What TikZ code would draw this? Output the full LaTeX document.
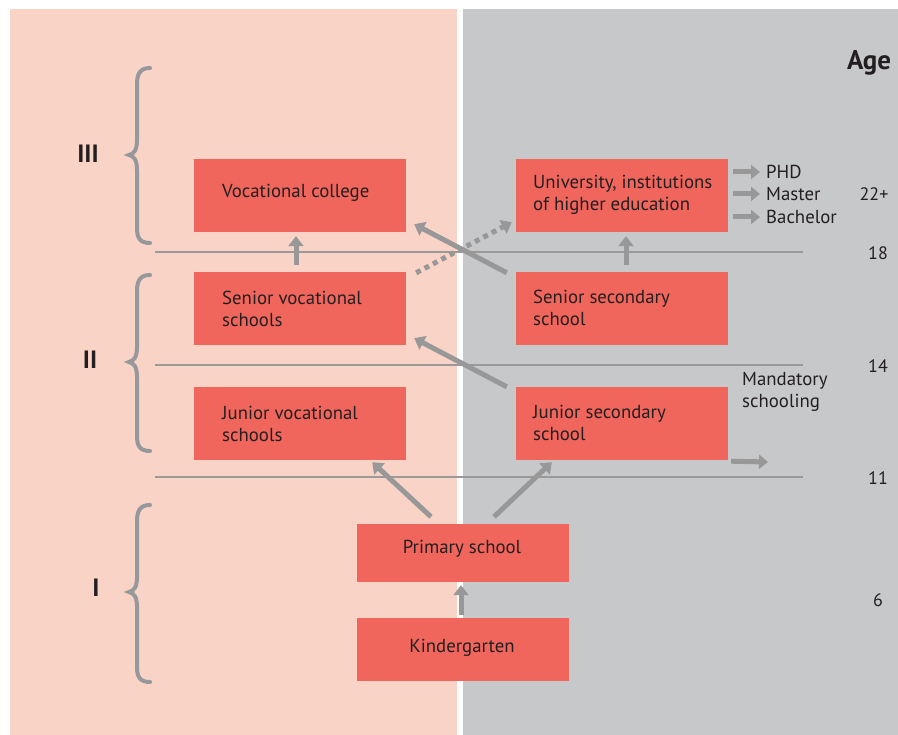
\documentclass[tikz,border=0pt]{standalone}
\usepackage{fontspec}
\setmainfont{PT Sans}
\usetikzlibrary{arrows.meta,calc}
\definecolor{pinkbg}{HTML}{FAD3C7}
\definecolor{greybg}{HTML}{C7C8CA}
\definecolor{boxred}{HTML}{F0665C}
\definecolor{txtc}{HTML}{231F20}
\definecolor{arrc}{HTML}{989898}
\definecolor{linec}{HTML}{9A9A9A}
\definecolor{bracec}{HTML}{96989B}
\tikzset{
  box/.style={rectangle, fill=boxred, draw=none, minimum width=212pt, minimum height=73pt, inner sep=0pt},
  btxt/.style={text=txtc, font=\fontsize{18.8}{22}\selectfont, align=left, inner sep=0pt},
  ctxt/.style={text=txtc, font=\fontsize{18.8}{22}\selectfont, inner sep=0pt},
  agetxt/.style={text=txtc, font=\fontsize{18}{21}\selectfont, inner sep=0pt},
  roman/.style={text=txtc, font=\fontsize{25}{28}\selectfont\bfseries, inner sep=0pt},
  arr/.style={draw=arrc, line width=5pt, -{Triangle[width=15pt,length=10pt]}},
  dotarr/.style={draw=arrc, line width=5pt, dash pattern=on 5pt off 4.5pt, -{Triangle[width=15pt,length=10pt]}},
  hline/.style={draw=linec, line width=1.5pt},
  brace/.style={draw=bracec, line width=4pt, line cap=round},
}
\begin{document}
\begin{tikzpicture}[x=1pt,y=-1pt]
\useasboundingbox (0,0) rectangle (898,735);
\fill[white] (0,0) rectangle (898,735);
\fill[pinkbg] (10,9) rectangle (457,735);
\fill[greybg] (463,9) rectangle (898,735);

% horizontal age lines
\draw[hline] (155,252) -- (803,252);
\draw[hline] (155,365) -- (803,365);
\draw[hline] (155,477) -- (803,477);

% boxes
\node[box] (vc) at (300,195.5) {};
\node[box] (uni) at (622,195.5) {};
\node[box] (sv) at (300,308.5) {};
\node[box] (ss) at (622,308.5) {};
\node[box] (jv) at (300,423.5) {};
\node[box] (js) at (622,423.5) {};
\node[box, minimum height=58pt] (ps) at (463,553) {};
\node[box, minimum height=63pt] (kg) at (463,649.5) {};

% box texts
\node[btxt, anchor=west] (vct) at (222,193) {Vocational college};
\node[btxt, anchor=west] (unit) at (533,195) {University, institutions\\of higher education};
\node[btxt, anchor=west] (svt) at (222,309) {Senior vocational\\schools};
\node[btxt, anchor=west] (sst) at (533,308) {Senior secondary\\school};
\node[btxt, anchor=west] (jvt) at (222,424) {Junior vocational\\schools};
\node[btxt, anchor=west] (jst) at (533,423) {Junior secondary\\school};
\node[ctxt] (pst) at (462,549) {Primary school};
\node[ctxt] (kgt) at (462,648) {Kindergarten};

% connectors
\draw[arr] ([shift={(-4,-7)}]sv.north) -- ([shift={(-4,4)}]vc.south);
\draw[arr] ([shift={(4,-7)}]ss.north) -- ([shift={(4,4)}]uni.south);
\draw[arr] ([shift={(-9,1)}]ss.north west) -- ([shift={(8,-8)}]vc.south east);
\draw[dotarr] ([shift={(10,1)}]sv.north east) -- ([shift={(-4,-10)}]uni.south west);
\draw[arr] ([shift={(-9,0)}]js.north west) -- ([shift={(8,-7)}]sv.south east);
\draw[arr] ([shift={(-32,-7)}]ps.north) -- ([shift={(-34,2)}]jv.south east);
\draw[arr] ([shift={(31,-7)}]ps.north) -- ([shift={(36,2)}]js.south west);
\draw[arr] ([shift={(-2,-3)}]kg.north) -- ([shift={(-2,3)}]ps.south);

% degree arrows
\node[btxt, anchor=west] (phd) at (766,172) {PHD};
\node[btxt, anchor=west] (mas) at (766,194) {Master};
\node[btxt, anchor=west] (bac) at (766,217) {Bachelor};
\draw[arr, -{Triangle[width=14pt,length=9pt]}] ([xshift=5]uni.east |- phd.west) -- ([xshift=-6]phd.west);
\draw[arr, -{Triangle[width=14pt,length=9pt]}] ([xshift=5]uni.east |- mas.west) -- ([xshift=-6]mas.west);
\draw[arr, -{Triangle[width=14pt,length=9pt]}] ([xshift=5]uni.east |- bac.west) -- ([xshift=-6]bac.west);

% mandatory schooling
\node[btxt, anchor=west] (mand) at (742,392) {Mandatory\\schooling};
\coordinate (mandend) at (768,462);
\draw[arr, -{Triangle[width=14pt,length=9pt]}] ([shift={(3,1)}]js.south east) -- (mandend);

% ages
\node[text=txtc, font=\fontsize{27}{30}\selectfont\bfseries, inner sep=0pt] (age) at (869,63) {Age};
\node[agetxt] (a22) at (874,194) {22+};
\node[agetxt] (a18) at (878,253) {18};
\node[agetxt] (a14) at (878,366) {14};
\node[agetxt] (a11) at (878,478) {11};
\node[agetxt] (a6) at (878,600) {6};

% braces
\draw[brace] (150,68) .. controls (140,68) and (137,74) .. (137,84) -- (137,140) .. controls (137,150) and (134,154) .. (129,155) .. controls (134,156) and (137,160) .. (137,170) -- (137,228) .. controls (137,238) and (140,243) .. (150,243);
\draw[brace] (150,275) .. controls (140,275) and (137,281) .. (137,291) -- (137,347) .. controls (137,357) and (134,361) .. (129,362) .. controls (134,363) and (137,367) .. (137,377) -- (137,436) .. controls (137,446) and (140,451) .. (150,451);
\draw[brace] (150,505) .. controls (140,505) and (137,511) .. (137,521) -- (137,577) .. controls (137,587) and (134,591) .. (129,592) .. controls (134,593) and (137,597) .. (137,607) -- (137,667) .. controls (137,677) and (140,682) .. (150,682);

\node[roman] (r3) at (88,154) {III};
\node[roman] (r2) at (90,360) {II};
\node[roman] (r1) at (96,588) {I};
\end{tikzpicture}
\end{document}
